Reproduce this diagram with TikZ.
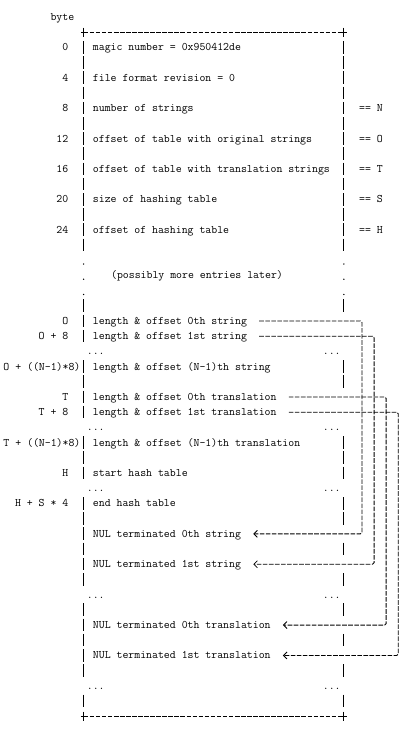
\documentclass[tikz,border=0pt]{standalone}
\usetikzlibrary{arrows.meta}
\begin{document}
\begin{tikzpicture}[x=6.05pt,y=-15.2pt,
    txt/.style={anchor=west,inner sep=0pt,text height=7pt,text depth=0pt,font=\ttfamily\fontsize{11.5}{13}\selectfont},
    lbl/.style={txt,anchor=east},
    bar/.style={line width=0.9pt,dash pattern=on 12.6pt off 2.6pt},
    rule/.style={line width=0.9pt,dash pattern=on 4.6pt off 1.45pt},
    link/.style={rule,rounded corners=1.5pt,-{Straight Barb[length=3.5pt,width=7pt,line width=0.8pt]}}]
  \useasboundingbox (-0.826,-1.118) rectangle (66.28,46.97);
  \node[txt] (byte) at (7.5,0) {byte};
  % header
  \foreach \r/\off/\entry in {2/0/magic number = 0x950412de,4/4/file format revision = 0,
      6/8/number of strings,8/12/offset of table with original strings,
      10/16/offset of table with translation strings,12/20/size of hashing table,
      14/24/offset of hashing table}{
    \node[txt] (hdr\r) at (14.5,\r) {\entry};
    \node[lbl] (off\r) at (10.5,\r) {\off};
  }
  \foreach \r/\v in {6/N,8/O,10/T,12/S,14/H}
    \node[txt] (eq\r) at (58.5,\r) {== \v};
  \node[txt] (later) at (17.5,17) {(possibly more entries later)};
  % tables
  \node[txt] (lenS0) at (14.5,20) {length \& offset 0th string};
  \node[lbl] at (10.5,20) {O};
  \node[txt] (lenS1) at (14.5,21) {length \& offset 1st string};
  \node[lbl] at (10.5,21) {O + 8};
  \node[txt] (lenSn) at (14.5,23) {length \& offset (N-1)th string};
  \node[lbl] at (12.5,23) {O + ((N-1)*8)};
  \node[txt] (lenT0) at (14.5,25) {length \& offset 0th translation};
  \node[lbl] at (10.5,25) {T};
  \node[txt] (lenT1) at (14.5,26) {length \& offset 1st translation};
  \node[lbl] at (10.5,26) {T + 8};
  \node[txt] (lenTn) at (14.5,28) {length \& offset (N-1)th translation};
  \node[lbl] at (12.5,28) {T + ((N-1)*8)};
  \node[txt] (hashA) at (14.5,30) {start hash table};
  \node[lbl] at (10.5,30) {H};
  \node[txt] (hashB) at (14.5,32) {end hash table};
  \node[lbl] at (10.5,32) {H + S * 4};
  % strings
  \node[txt] (nulS0) at (14.5,34) {NUL terminated 0th string};
  \node[txt] (nulS1) at (14.5,36) {NUL terminated 1st string};
  \node[txt] (nulT0) at (14.5,40) {NUL terminated 0th translation};
  \node[txt] (nulT1) at (14.5,42) {NUL terminated 1st translation};
  \foreach \r in {22,27,31,38,44}{
    \node[txt] (dl\r) at (13.5,\r) {...};
    \node[txt] (dr\r) at (52.5,\r) {...};
  }
  % box
  \draw[rule] (13,1) -- (56,1) (13,46) -- (56,46);
  \foreach \c in {13,56} \foreach \r in {1,46}
    \draw[line width=0.9pt] (\c-0.45,\r) -- (\c+0.45,\r) (\c,\r-0.3) -- (\c,\r+0.3);
  \foreach \a/\b in {2/15,19/21,23/26,28/30,32/37,39/43,45/45}
    \draw[bar] (13,\a-0.42) -- (13,\b+0.42);
  \foreach \a/\b in {2/15,19/19,23/24,28/30,32/33,35/35,37/37,39/39,41/41,43/43,45/45}
    \draw[bar] (56,\a-0.42) -- (56,\b+0.42);
  \foreach \r in {16,17,18} \foreach \c in {13,56}
    \fill (\c,\r+0.25) circle (0.75pt);
  % pointers
  \coordinate (laneA) at (59,0);
  \coordinate (laneB) at (61,0);
  \coordinate (laneC) at (63,0);
  \coordinate (laneD) at (65,0);
  \foreach \from/\to/\lane in {lenS0/nulS0/laneA,lenS1/nulS1/laneB,lenT0/nulT0/laneC,lenT1/nulT1/laneD}
    \draw[link] ([xshift=12.1pt]\from.east) -- (\from.east -| \lane) -- (\to.east -| \lane) -- ([xshift=12.1pt]\to.east);
\end{tikzpicture}
\end{document}
